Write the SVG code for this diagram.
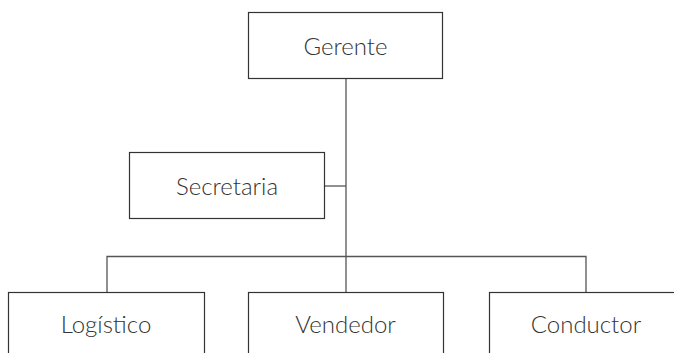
<svg xmlns="http://www.w3.org/2000/svg" width="674" height="353" viewBox="0 0 674 353">
<style>
.box{fill:#fff;stroke:#333;stroke-width:1.2}
.lbl{font-family:Lato,"Open Sans","Liberation Sans",sans-serif;font-weight:300;font-size:24px;fill:#333;text-anchor:middle}
.con{fill:none;stroke:#555;stroke-width:1.3}
</style>
<rect width="674" height="353" fill="#fff"/>
<g id="connectors">
<line class="con" x1="346" y1="78" x2="346" y2="292"/>
<line class="con" x1="324" y1="186" x2="346" y2="186"/>
<polyline class="con" points="107,292 107,256.5 586,256.5 586,292"/>
</g>
<g id="gerente">
<rect class="box" x="248.5" y="12.5" width="194" height="66"/>
<text class="lbl" x="345.5" y="55">Gerente</text>
</g>
<g id="secretaria">
<rect class="box" x="129.5" y="152.5" width="195" height="66"/>
<text class="lbl" x="227" y="195">Secretaria</text>
</g>
<g id="logistico">
<rect class="box" x="8.5" y="292.5" width="196" height="80"/>
<text class="lbl" x="106" y="333">Logístico</text>
</g>
<g id="vendedor">
<rect class="box" x="248.5" y="292.5" width="195" height="80"/>
<text class="lbl" x="345.5" y="333">Vendedor</text>
</g>
<g id="conductor">
<rect class="box" x="489.5" y="292.5" width="196" height="80"/>
<text class="lbl" x="586" y="333">Conductor</text>
</g>
</svg>
